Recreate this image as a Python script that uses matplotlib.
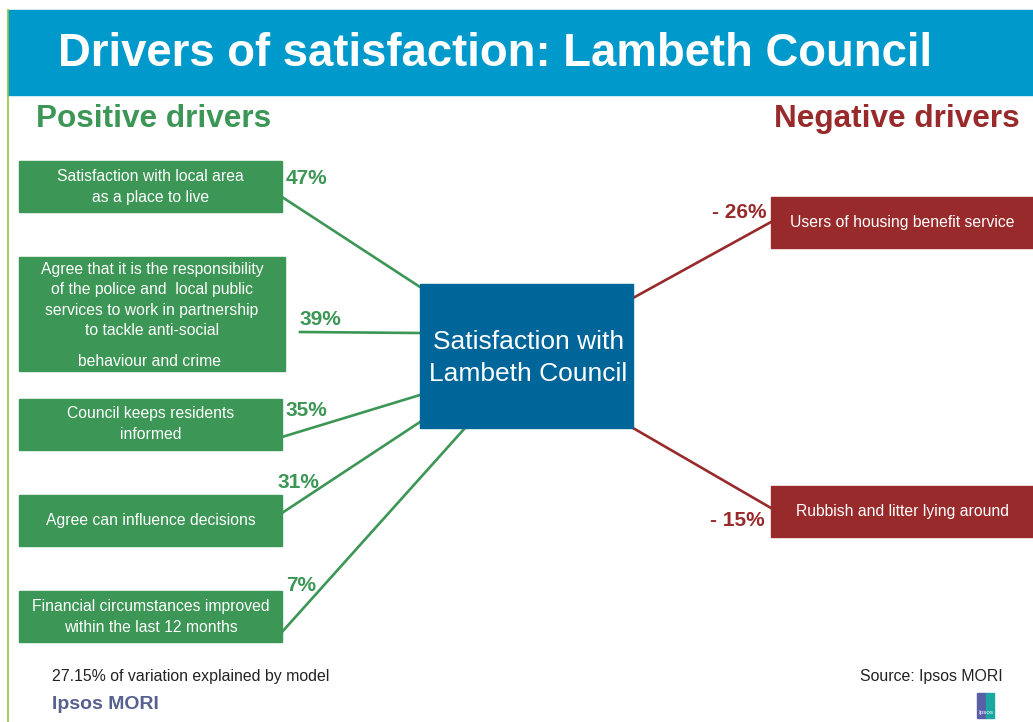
"""
Driver diagram: what drives satisfaction with Lambeth Council.
"""

import matplotlib.pyplot as plt
from matplotlib.patches import Rectangle

# Data
positive_labels = [
    "Satisfaction with local area\nas a place to live",
    "Agree that it is the responsibility\nof the police and  local public\n"
    "services to work in partnership\nto tackle anti-social",
    "Council keeps residents\ninformed",
    "Agree can influence decisions",
    "Financial circumstances improved\nwithin the last 12 months",
]
positive_values = [47, 39, 35, 31, 7]
negative_labels = ["Users of housing benefit service", "Rubbish and litter lying around"]
negative_values = [-26, -15]
centre_label = "Satisfaction with\nLambeth Council"
model_note = "27.15% of variation explained by model"
source_note = "Source: Ipsos MORI"

# Colours
GREEN = "#3C9655"
RED = "#992A2B"
BLUE = "#006699"
BAR = "#0099CC"
EDGE = "#8DC63F"

# Layout in pixel units (x, y from top-left)
pos_boxes = [(19, 161, 263, 51), (19, 257, 266, 114), (19, 399, 263, 51),
             (19, 495, 263, 51), (19, 591, 263, 51)]
pos_text_y = [187, 300, 424, 520, 617]
pos_lines = [((282, 197), (420, 287)), ((300, 332), (420, 333)),
             ((282, 437), (420, 395)), ((282, 513), (420, 422)),
             ((282, 632), (465, 428))]
pos_pct = [(286, 184, "left"), (300, 325, "left"), (286, 416, "left"),
           (278, 488, "left"), (286, 591, "left")]
neg_boxes = [(771, 197, 262, 51), (771, 486, 262, 51)]
neg_lines = [((633, 298), (771, 222)), ((633, 428), (771, 508))]
neg_pct = [(767, 218), (765, 526)]
centre_box = (420, 284, 213, 144)

plt.rcParams['font.family'] = ['Liberation Sans', 'DejaVu Sans']

fig = plt.figure(figsize=(10.33, 7.22), dpi=100)
ax = fig.add_axes([0, 0, 1, 1])
ax.set_xlim(0, 1033)
ax.set_ylim(722, 0)
ax.axis('off')

# Header bar and left rule
ax.add_patch(Rectangle((8, 10), 1025, 85, color=BAR, zorder=1))
ax.plot([8, 8], [10, 722], color=EDGE, lw=1.2, zorder=2)
ax.text(58, 66, "Drivers of satisfaction: Lambeth Council", color="white",
        fontsize=32.8, fontweight="bold", ha="left", va="baseline")

ax.text(36, 127, "Positive drivers", color=GREEN, fontsize=22.7,
        fontweight="bold", ha="left", va="baseline")
ax.text(1020, 127, "Negative drivers", color=RED, fontsize=22.7,
        fontweight="bold", ha="right", va="baseline")

# Connector lines
for (p0, p1) in pos_lines:
    ax.plot([p0[0], p1[0]], [p0[1], p1[1]], color=GREEN, lw=1.9, zorder=2)
for (p0, p1) in neg_lines:
    ax.plot([p0[0], p1[0]], [p0[1], p1[1]], color=RED, lw=1.9, zorder=2)

# Positive driver boxes
for i, (label, val) in enumerate(zip(positive_labels, positive_values)):
    x, y, w, h = pos_boxes[i]
    ax.add_patch(Rectangle((x, y), w, h, color=GREEN, zorder=3))
    ax.text(x + w / 2, pos_text_y[i], label, color="white", fontsize=11.3,
            ha="center", va="center", linespacing=1.45, zorder=4)
    px, py, ha = pos_pct[i]
    ax.text(px, py, f"{val}%", color=GREEN, fontsize=15, fontweight="bold",
            ha=ha, va="baseline")
ax.text(150, 361, "behaviour and crime", color="white", fontsize=11.3,
        ha="center", va="center", zorder=4)

# Negative driver boxes
for i, (label, val) in enumerate(zip(negative_labels, negative_values)):
    x, y, w, h = neg_boxes[i]
    ax.add_patch(Rectangle((x, y), w, h, color=RED, zorder=3))
    ax.text(x + w / 2, y + h / 2, label, color="white", fontsize=11.3,
            ha="center", va="center", zorder=4)
    px, py = neg_pct[i]
    ax.text(px, py, f"- {abs(val)}%", color=RED, fontsize=15,
            fontweight="bold", ha="right", va="baseline")

# Centre box
cx, cy, cw, ch = centre_box
ax.add_patch(Rectangle((cx, cy), cw, ch, color=BLUE, zorder=3))
ax.text(cx + cw / 2 + 2, 358, centre_label, color="white", fontsize=19,
        ha="center", va="center", linespacing=1.4, zorder=4)

# Footer
ax.text(52, 681, model_note, color="#222222", fontsize=11.4, ha="left",
        va="baseline")
ax.text(1003, 681, source_note, color="#222222", fontsize=11.4, ha="right",
        va="baseline")
ax.text(52, 709, "Ipsos MORI", color="#56618F", fontsize=14,
        fontweight="bold", ha="left", va="baseline")
ax.add_patch(Rectangle((977, 693), 9, 25, color="#5B5FA8", zorder=3))
ax.add_patch(Rectangle((986, 693), 8, 25, color="#1AA7A0", zorder=3))
ax.text(985.5, 714, "Ipsos", color="white", fontsize=4.5, ha="center",
        va="baseline", zorder=4)

fig.savefig("out.png", dpi=100)
